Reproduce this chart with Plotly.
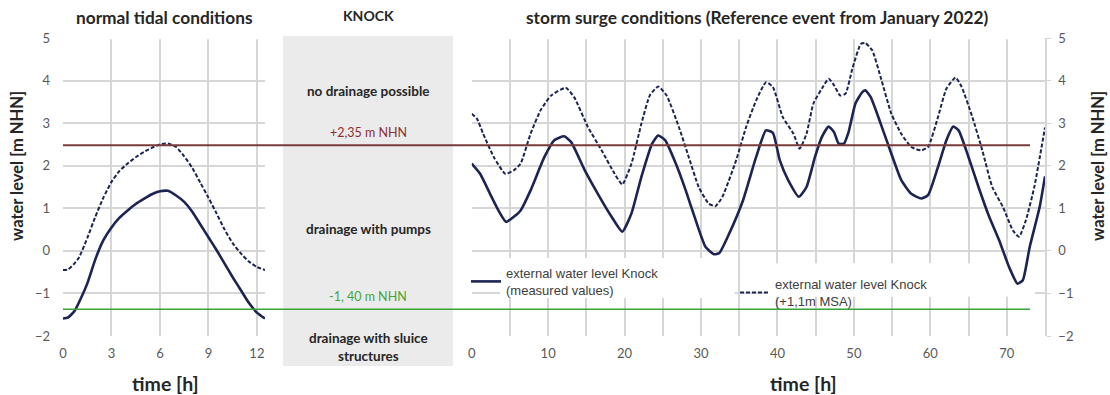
import plotly.graph_objects as go

W, H = 1110, 395

# ---------------- data ----------------
t_normal = [0, 0.3, 0.7, 1.0, 1.5, 2.0, 2.5, 3.0, 3.5, 4.0, 4.5, 5.0, 5.5, 6.0, 6.5,
            7.0, 7.5, 8.0, 8.5, 9.0, 9.5, 10.0, 10.5, 11.0, 11.5, 12.0, 12.5]
normal_measured = [-1.59, -1.57, -1.42, -1.2, -0.77, -0.2, 0.25, 0.55, 0.78, 0.95, 1.1,
                   1.22, 1.33, 1.4, 1.41, 1.3, 1.15, 0.92, 0.62, 0.32, 0.02, -0.3,
                   -0.62, -0.92, -1.22, -1.45, -1.59]
normal_msa = [-0.45, -0.44, -0.3, -0.15, 0.3, 0.8, 1.25, 1.62, 1.88, 2.05, 2.2, 2.32,
              2.42, 2.5, 2.52, 2.44, 2.22, 1.95, 1.6, 1.25, 0.88, 0.5, 0.18, -0.06,
              -0.25, -0.38, -0.45]

t_storm_meas = [0, 1.1, 2.4, 3.5, 4.5, 5.5, 6.4, 7.7, 9.5, 10.8, 12.1, 13, 14.8, 16.5,
                18.3, 19.7, 20.9, 22.2, 23.6, 24.4, 25.3, 26.7, 28, 29.3, 30.6, 31.7,
                32.4, 33.7, 35.5, 37.2, 38.5, 39.4, 40.3, 41.4, 42.8, 43.8, 44.9, 45.8,
                46.7, 47.4, 48, 48.7, 49.3, 50.2, 51.1, 51.5, 52.2, 53.5, 54.9, 56.2,
                57.5, 58.8, 59.7, 61, 62.1, 63, 63.7, 65, 66.3, 67.7, 69, 70.3, 71.4,
                72.1, 73, 74.3, 75.0]
storm_measured = [2.05, 1.81, 1.34, 0.95, 0.68, 0.8, 0.95, 1.42, 2.2, 2.6, 2.69, 2.56,
                  1.89, 1.34, 0.8, 0.45, 0.88, 1.74, 2.52, 2.71, 2.6, 2.05, 1.42, 0.72,
                  0.09, -0.08, -0.05, 0.41, 1.19, 2.2, 2.83, 2.77, 2.13, 1.66, 1.27, 1.5,
                  2.2, 2.67, 2.92, 2.79, 2.52, 2.52, 2.79, 3.46, 3.73, 3.77, 3.61, 2.99,
                  2.28, 1.66, 1.34, 1.23, 1.31, 1.97, 2.6, 2.92, 2.83, 2.2, 1.5, 0.8,
                  0.25, -0.38, -0.77, -0.69, 0.09, 1.03, 1.75]

t_storm_msa = [0, 0.7, 1.5, 2.9, 4.4, 5.5, 6.4, 7.7, 9, 10.4, 12.3, 13.4, 15.2, 17,
               18.7, 19.7, 20.9, 22.2, 23.3, 24.4, 25.5, 27.1, 28.4, 29.7, 31, 31.9,
               32.8, 34.6, 35.9, 37.2, 38.5, 39.4, 40.7, 42.1, 42.9, 43.8, 44.7, 45.8,
               46.7, 47.4, 48.2, 48.9, 49.8, 50.9, 51.5, 52.4, 53.5, 54.9, 56.2, 57.5,
               58.8, 59.7, 61, 62.1, 63.3, 64.1, 65.5, 66.8, 68.1, 69.5, 70.8, 71.6,
               72.5, 73.6, 75.0]
storm_msa = [3.22, 3.1, 2.75, 2.2, 1.81, 1.89, 2.05, 2.75, 3.3, 3.65, 3.83, 3.61, 2.91,
             2.36, 1.81, 1.56, 2.05, 2.99, 3.65, 3.86, 3.65, 2.91, 2.2, 1.5, 1.11, 1.05,
             1.27, 2.13, 2.91, 3.53, 3.96, 3.85, 3.14, 2.75, 2.4, 2.75, 3.46, 3.81, 4.04,
             3.89, 3.65, 3.69, 4.28, 4.86, 4.88, 4.71, 4.08, 3.22, 2.75, 2.44, 2.36, 2.44,
             3.14, 3.81, 4.07, 3.85, 3.14, 2.36, 1.5, 1.03, 0.48, 0.33, 0.72, 1.5, 2.9]

threshold_high = 2.48   # "+2,35 m NHN" line as drawn
threshold_low = -1.37   # "-1, 40 m NHN" line as drawn

legend_measured = "external water level Knock<br>(measured values)"
legend_msa = "external water level Knock<br>(+1,1m MSA)"

# ---------------- styling ----------------
NAVY = "#1c2453"
GRID = "#d6d6d6"
TICK = "#595959"
FONT = "Lato, Open Sans, sans-serif"
LEGFONT = dict(family="Liberation Sans, Arial, sans-serif", size=13, color="#404040")


def px(x):
    return x / W


def py(y):
    return 1 - y / H


y_dom = [py(336), py(38)]

fig = go.Figure()

fig.add_trace(go.Scatter(x=t_normal, y=normal_measured, mode="lines",
                         line=dict(color=NAVY, width=2.6, shape="spline", smoothing=0.5),
                         xaxis="x", yaxis="y", showlegend=False))
fig.add_trace(go.Scatter(x=t_normal, y=normal_msa, mode="lines",
                         line=dict(color=NAVY, width=2, dash="4px,2px", shape="spline", smoothing=0.5),
                         xaxis="x", yaxis="y", showlegend=False))
fig.add_trace(go.Scatter(x=t_storm_meas, y=storm_measured, mode="lines", name=legend_measured,
                         line=dict(color=NAVY, width=2.6, shape="spline", smoothing=0.5),
                         xaxis="x2", yaxis="y2", legend="legend"))
fig.add_trace(go.Scatter(x=t_storm_msa, y=storm_msa, mode="lines", name=legend_msa,
                         line=dict(color=NAVY, width=2, dash="4px,2px", shape="spline", smoothing=0.5),
                         xaxis="x2", yaxis="y2", legend="legend2"))

axis_common = dict(gridcolor=GRID, gridwidth=1.5, zeroline=False, showline=False,
                   automargin=False,
                   tickfont=dict(family=FONT, size=13, color=TICK), fixedrange=True)

fig.update_layout(
    template="none",
    width=W, height=H, autosize=False, margin=dict(l=0, r=0, t=0, b=0, pad=0),
    paper_bgcolor="white", plot_bgcolor="white",
    xaxis=dict(domain=[px(63), px(265)], range=[0, 12.5], tickvals=[0, 3, 6, 9, 12],
               anchor="y", ticklabelstandoff=8, **axis_common),
    yaxis=dict(domain=y_dom, range=[-2, 5], dtick=1, anchor="x",
               ticklabelstandoff=12, **axis_common),
    xaxis2=dict(domain=[px(471.7), px(1045)], range=[0, 75], dtick=10, anchor="y2",
                ticklabelstandoff=8, minor=dict(dtick=5, showgrid=True, gridcolor=GRID, gridwidth=1.5),
                **axis_common),
    yaxis2=dict(domain=y_dom, range=[-2, 5], dtick=1, anchor="x2", side="right",
                ticklabelstandoff=5, **{**axis_common, "showline": True},
                linecolor=GRID, linewidth=1.5, ticks="outside", ticklen=4, tickcolor=GRID),
    legend=dict(x=px(466), y=py(258), xanchor="left", yanchor="top",
                bgcolor="rgba(0,0,0,0)", font=LEGFONT,
                itemclick=False, itemdoubleclick=False),
    legend2=dict(x=px(735), y=py(269), xanchor="left", yanchor="top",
                 bgcolor="rgba(0,0,0,0)", font=LEGFONT,
                 itemclick=False, itemdoubleclick=False),
)

# grey KNOCK box
fig.add_shape(type="rect", xref="paper", yref="paper", x0=px(283), x1=px(453),
              y0=py(366), y1=py(36), fillcolor="#ebebeb", line=dict(width=0), layer="below")
# white legend backgrounds (hide the gridlines behind the legend text)
fig.add_shape(type="rect", xref="x2", yref="y2", x0=3.7, x1=34.4, y0=-1.11, y1=-0.17,
              fillcolor="white", line=dict(width=0), layer="between")
fig.add_shape(type="rect", xref="x2", yref="y2", x0=38.5, x1=73.7, y0=-1.08, y1=-0.29,
              fillcolor="white", line=dict(width=0), layer="between")
# no gridline at the top value (as in the original)
fig.add_shape(type="line", xref="x", yref="y", x0=0, x1=12.5, y0=5, y1=5,
              line=dict(color="white", width=2.5), layer="between")
fig.add_shape(type="line", xref="x2", yref="y2", x0=0, x1=75, y0=5, y1=5,
              line=dict(color="white", width=2.5), layer="between")
# threshold lines
fig.add_shape(type="line", xref="paper", yref="y", x0=px(63), x1=px(1030),
              y0=threshold_high, y1=threshold_high, line=dict(color="#7a3b3b", width=2),
              layer="above")
fig.add_shape(type="line", xref="paper", yref="y", x0=px(63), x1=px(1030),
              y0=threshold_low, y1=threshold_low, line=dict(color="#3aa33a", width=1.5),
              layer="above")


def ann(text, x, y, size, color="#262626", bold=True, family=FONT, **kw):
    t = f"<b>{text}</b>" if bold else text
    fig.add_annotation(text=t, x=px(x), y=py(y), xref="paper", yref="paper",
                       showarrow=False, xanchor="center", yanchor="middle",
                       font=dict(family=family, size=size, color=color), **kw)


ann("normal tidal conditions", 164, 17, 17.3)
ann("KNOCK", 368, 16, 14)
ann("storm surge conditions (Reference event from January 2022)", 757, 17, 17.3)
ann("no drainage possible", 368, 91, 13.5)
ann("+2,35 m NHN", 368, 132, 12.5, color="#8b2e2e", bold=False)
ann("drainage with pumps", 368, 229, 13.5)
ann("-1, 40 m NHN", 368, 296, 12.5, color="#45a535", bold=False)
ann("drainage with sluice<br>structures", 368, 347, 13.5)
ann("time [h]", 165, 383, 19.5)
ann("time [h]", 803, 383, 19.5)
ann("water level [m NHN]", 17, 166, 16.5, textangle=-90)
ann("water level [m NHN]", 1098, 166, 16.5, textangle=-90)

fig.write_html("out.html")
